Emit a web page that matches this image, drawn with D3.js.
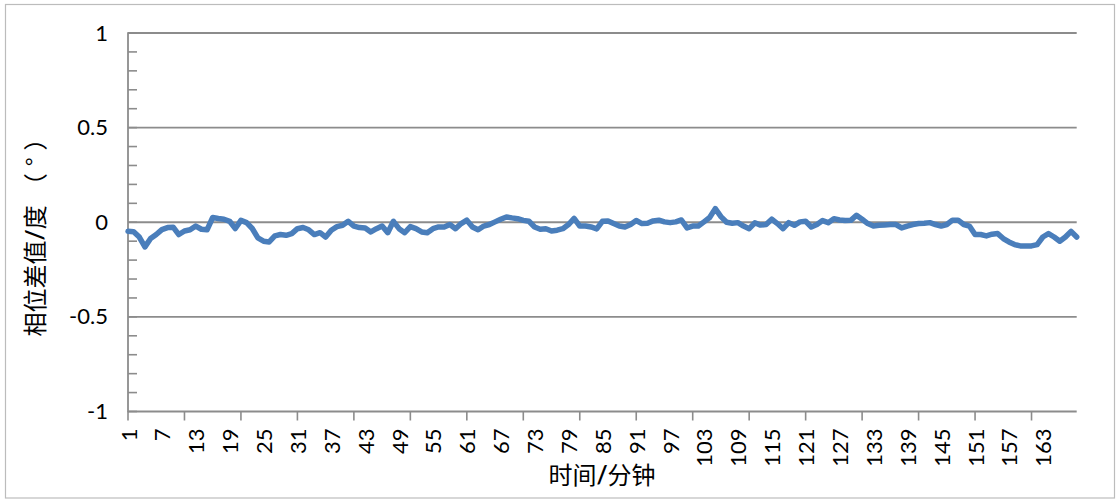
<!DOCTYPE html>
<html>
<head>
<meta charset="utf-8">
<script src="https://cdn.jsdelivr.net/npm/d3@7"></script>
<style>
  html, body { margin: 0; padding: 0; background: #fff; }
  svg { display: block; }
</style>
</head>
<body>
<svg id="chart" width="1116" height="499"></svg>
<script>
// Phase difference (degrees) sampled once per minute
const phaseDiff = [
  -0.048, -0.050, -0.078, -0.130, -0.086, -0.065, -0.039, -0.028, -0.026, -0.065,
  -0.046, -0.040, -0.020, -0.037, -0.040,  0.025,  0.020,  0.016,  0.005, -0.033,
   0.010, -0.002, -0.033, -0.083, -0.100, -0.104, -0.072, -0.065, -0.069, -0.060,
  -0.034, -0.028, -0.040, -0.065, -0.055, -0.078, -0.042, -0.023, -0.016,  0.005,
  -0.020, -0.028, -0.030, -0.051, -0.034, -0.020, -0.055,  0.005, -0.034, -0.055,
  -0.023, -0.034, -0.051, -0.055, -0.034, -0.025, -0.025, -0.012, -0.034, -0.007,
   0.011, -0.025, -0.040, -0.020, -0.012,  0.002,  0.016,  0.028,  0.023,  0.019,
   0.010,  0.005, -0.025, -0.037, -0.034, -0.046, -0.042, -0.034, -0.012,  0.020,
  -0.020, -0.020, -0.025, -0.035,  0.005,  0.007, -0.007, -0.020, -0.025, -0.012,
   0.009, -0.007, -0.005,  0.007,  0.011,  0.002, -0.002,  0.002,  0.012, -0.030,
  -0.020, -0.020,  0.002,  0.025,  0.072,  0.030,  0.000, -0.005, -0.002, -0.020,
  -0.034, -0.003, -0.015, -0.012,  0.016, -0.007, -0.034, -0.002, -0.016,  0.002,
   0.005, -0.025, -0.012,  0.009, -0.002,  0.019,  0.012,  0.009,  0.010,  0.037,
   0.016, -0.007, -0.020, -0.016, -0.014, -0.012, -0.012, -0.030, -0.020, -0.012,
  -0.007, -0.005, -0.002, -0.012, -0.020, -0.012,  0.011,  0.011, -0.012, -0.020,
  -0.065, -0.065, -0.072, -0.063, -0.060, -0.086, -0.104, -0.118, -0.125, -0.125,
  -0.125, -0.118, -0.078, -0.060, -0.078, -0.100, -0.078, -0.048, -0.078
];
const minutes = d3.range(1, phaseDiff.length + 1);

// Axis labelling
const xTickLabels = [1, 7, 13, 19, 25, 31, 37, 43, 49, 55, 61, 67, 73, 79, 85, 91, 97, 103, 109, 115, 121, 127, 133, 139, 145, 151, 157, 163];
const xTickMarks = [1, 11, 21, 31, 41, 51, 61, 71, 81, 91, 101, 111, 121, 131, 141, 151, 161];
const yTicks = [1, 0.5, 0, -0.5, -1];
const yMinorTicks = d3.range(-10, 11).map(d => d / 10);
const yTitle = ["相位差值", "/", "度", "（°）"];
const xTitle = ["时间", "/", "分钟"];

const svg = d3.select("#chart");
const plot = { left: 128, right: 1076.7, top: 33, bottom: 411.5 };
const gridColor = "#8c8c8c";
const numFont = "Lato, 'DejaVu Sans', sans-serif";
const cjkFont = "'Noto Sans CJK SC', 'Noto Sans', sans-serif";

// Outer frame
svg.append("rect")
  .attr("x", 5.5).attr("y", 4.5)
  .attr("width", 1109).attr("height", 493.5)
  .attr("fill", "#fff").attr("stroke", "#bcbcbc").attr("stroke-width", 1.2);

const x = d3.scalePoint().domain(minutes).range([plot.left, plot.right]);
const y = d3.scaleLinear().domain([-1, 1]).range([plot.bottom, plot.top]);

// Horizontal gridlines
svg.append("g")
  .selectAll("line")
  .data(yTicks.filter(v => v !== -1))
  .join("line")
  .attr("x1", plot.left).attr("x2", plot.right)
  .attr("y1", d => y(d)).attr("y2", d => y(d))
  .attr("stroke", gridColor).attr("stroke-width", 1.8);

// Y axis: labels, minor ticks inside, axis line
const yAxis = svg.append("g").attr("transform", `translate(${plot.left},0)`)
  .call(d3.axisLeft(y).tickValues(yTicks).tickSize(0).tickPadding(20)
    .tickFormat(d => String(d)));
yAxis.select(".domain").remove();
yAxis.selectAll("text")
  .attr("font-family", numFont).attr("font-size", 22).attr("fill", "#000");

svg.append("g")
  .selectAll("line")
  .data(yMinorTicks)
  .join("line")
  .attr("x1", plot.left).attr("x2", plot.left + 9)
  .attr("y1", d => y(d)).attr("y2", d => y(d))
  .attr("stroke", gridColor).attr("stroke-width", 1.6);

svg.append("line")
  .attr("x1", plot.left).attr("x2", plot.left)
  .attr("y1", plot.top - 0.8).attr("y2", plot.bottom + 0.8)
  .attr("stroke", gridColor).attr("stroke-width", 1.8);

// X axis: line, tick marks, rotated labels
svg.append("line")
  .attr("x1", plot.left).attr("x2", plot.right)
  .attr("y1", plot.bottom).attr("y2", plot.bottom)
  .attr("stroke", gridColor).attr("stroke-width", 1.8);

svg.append("g")
  .selectAll("line")
  .data(xTickMarks)
  .join("line")
  .attr("x1", d => x(d)).attr("x2", d => x(d))
  .attr("y1", plot.bottom).attr("y2", plot.bottom + 9)
  .attr("stroke", gridColor).attr("stroke-width", 1.6);

svg.append("g")
  .selectAll("text")
  .data(xTickLabels)
  .join("text")
  .attr("transform", d => `translate(${x(d)},${plot.bottom + 17}) rotate(-90)`)
  .attr("text-anchor", "end")
  .attr("dominant-baseline", "central")
  .attr("font-family", numFont).attr("font-size", 22).attr("fill", "#000")
  .text(d => d);

// Data line
svg.append("path")
  .datum(phaseDiff)
  .attr("fill", "none")
  .attr("stroke", "#4a7ebb")
  .attr("stroke-width", 5.5)
  .attr("stroke-linejoin", "round")
  .attr("stroke-linecap", "round")
  .attr("d", d3.line().x((d, i) => x(minutes[i])).y(d => y(d)));

// Axis titles
function title(parts, attrs) {
  const t = svg.append("text")
    .attr("text-anchor", "middle")
    .attr("font-family", cjkFont).attr("font-size", 24).attr("fill", "#000");
  Object.entries(attrs).forEach(([k, v]) => t.attr(k, v));
  parts.forEach(p => {
    const s = t.append("tspan").text(p);
    if (p === "/") s.attr("font-family", numFont).attr("font-weight", "bold");
    if (p.startsWith("（")) s.attr("dx", 8).attr("letter-spacing", 7);
  });
  return t;
}
title(yTitle, { transform: "translate(44,228) rotate(-90)" });
title(xTitle, { x: 602, y: 484 });
</script>
</body>
</html>
